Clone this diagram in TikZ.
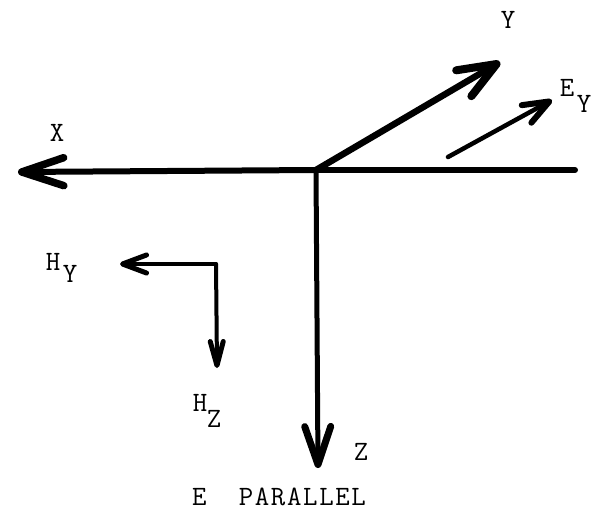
\documentclass[tikz,border=0pt]{standalone}
\usepackage{fontspec}
\setmonofont{Latin Modern Mono}[LetterSpace=6]
\usetikzlibrary{arrows.meta}
\begin{document}
\begin{tikzpicture}[x=1pt,y=-1pt,
  vec/.style={line cap=round},
  lbl/.style={inner sep=0pt, font=\fontsize{28}{28}\ttfamily}]
\useasboundingbox[fill=white] (0,0) rectangle (596,519);
% coordinates
\coordinate (O) at (316,170);
\coordinate (R) at (575,170);
\coordinate (Xt) at (18,172);
\coordinate (Yt) at (500,62);
\coordinate (Es) at (448,157);
\coordinate (Et) at (552,100);
\coordinate (Zt) at (318,468);
\coordinate (C) at (216,264);
\coordinate (Ht) at (120,264);
\coordinate (Hz) at (217,368);
% axes
\draw[vec, line width=6pt] (R) -- (O);
\draw[vec, line width=6pt, -{Straight Barb[length=42pt,width=28pt,line width=7.5pt,round]}] (O) -- (Xt);
\draw[vec, line width=6.5pt, -{Straight Barb[length=38pt,width=30pt,line width=8pt,round]}] (O) -- (Yt);
\draw[vec, line width=4.5pt, -{Straight Barb[length=26pt,width=20pt,line width=6pt,round]}] (Es) -- (Et);
\draw[vec, line width=5pt, -{Straight Barb[length=38pt,width=26pt,line width=7pt,round]}] (O) -- (Zt);
\draw[line width=4pt, line cap=round, -{Straight Barb[length=24pt,width=18pt,line width=5pt,round]}] (C) -- (Ht);
\draw[line width=4pt, line cap=round, -{Straight Barb[length=24pt,width=13pt,line width=5pt,round]}] (C) -- (Hz);
% labels
\node[lbl] (lx) at (57,133) {X};
\node[lbl] (ly) at (508,20) {Y};
\node[lbl] (le) at (567,88) {E};
\node[lbl] (ley) at (584,104) {Y};
\node[lbl] (lhy) at (53,262) {H};
\node[lbl] (lhyy) at (70,274) {Y};
\node[lbl] (lhz) at (200,403) {H};
\node[lbl] (lhzz) at (214,419) {Z};
\node[lbl] (lz) at (361,452) {Z};
\node[lbl, anchor=west] (cap) at (192,497) {E\ \ PARALLEL};
\end{tikzpicture}
\end{document}
